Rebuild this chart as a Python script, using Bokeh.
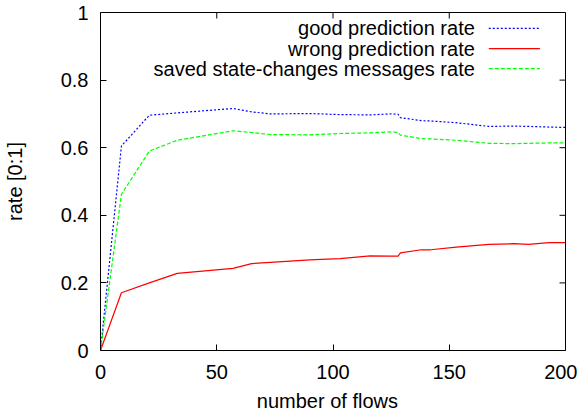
from bokeh.plotting import figure
from bokeh.models import Range1d, FixedTicker, Label
from bokeh.embed import file_html
from bokeh.resources import INLINE

# ---- data ----
flows = [0, 9, 21, 33, 57, 65, 73, 90, 103, 116, 125, 128, 129, 138, 142, 153, 167, 178, 184, 193, 200]
good_rate = [0.0, 0.605, 0.696, 0.703, 0.716, 0.706, 0.700, 0.701, 0.698, 0.697, 0.700, 0.699,
             0.689, 0.680, 0.679, 0.674, 0.663, 0.664, 0.663, 0.661, 0.660]
wrong_rate = [0.0, 0.171, 0.200, 0.228, 0.243, 0.257, 0.261, 0.268, 0.272, 0.280, 0.279, 0.279,
              0.289, 0.298, 0.298, 0.306, 0.314, 0.316, 0.314, 0.319, 0.319]
saved_rate = [0.0, 0.462, 0.590, 0.622, 0.650, 0.645, 0.639, 0.638, 0.642, 0.644, 0.647, 0.645,
              0.637, 0.627, 0.626, 0.622, 0.613, 0.612, 0.613, 0.614, 0.614]

series_names = ["good prediction rate", "wrong prediction rate", "saved state-changes messages rate"]
x_ticks = [0, 50, 100, 150, 200]
y_ticks = [0, 0.2, 0.4, 0.6, 0.8, 1.0]
y_tick_labels = {0: "0", 0.2: "0.2", 0.4: "0.4", 0.6: "0.6", 0.8: "0.8", 1.0: "1"}
x_title = "number  of  flows"
y_title = "rate [0:1]"

FONT = "Liberation Sans"
FS = "20px"
X0, X1, Y0, Y1 = 0, 200, 0, 1
FW, FH = 465, 338

p = figure(output_backend="svg", toolbar_location=None,
           frame_width=FW, frame_height=FH,
           x_range=Range1d(X0, X1), y_range=Range1d(Y0, Y1),
           min_border_left=97, min_border_top=12, min_border_right=12, min_border_bottom=0)
p.background_fill_color = "white"
p.border_fill_color = "white"
p.grid.visible = False
p.outline_line_color = "black"
p.outline_line_width = 1

# main axes
for ax, ticks in ((p.xaxis[0], x_ticks), (p.yaxis[0], y_ticks)):
    ax.ticker = FixedTicker(ticks=ticks)
    ax.axis_line_color = None
    ax.major_tick_in = 6
    ax.major_tick_out = 0
    ax.minor_tick_line_color = None
    ax.major_tick_line_color = "black"
    ax.major_label_text_font = FONT
    ax.major_label_text_font_size = FS
    ax.major_label_text_color = "black"
    ax.axis_label_text_font = FONT
    ax.axis_label_text_font_size = FS
    ax.axis_label_text_font_style = "normal"
    ax.axis_label_text_color = "black"

p.xaxis[0].axis_label = x_title
p.xaxis[0].major_label_standoff = 14
p.xaxis[0].axis_label_standoff = 8
p.yaxis[0].axis_label = y_title
p.yaxis[0].major_label_overrides = y_tick_labels
p.yaxis[0].major_label_standoff = 12
p.yaxis[0].axis_label_standoff = 32

# mirror ticks on top and right (6 px inward)
tick_len_y = 6 * (Y1 - Y0) / FH
tick_len_x = 6 * (X1 - X0) / FW
p.segment(x0=x_ticks, y0=[Y1] * len(x_ticks), x1=x_ticks, y1=[Y1 - tick_len_y] * len(x_ticks),
          line_color="black", line_width=1)
p.segment(x0=[X1] * len(y_ticks), y0=y_ticks, x1=[X1 - tick_len_x] * len(y_ticks), y1=y_ticks,
          line_color="black", line_width=1)

# series
p.line(flows, good_rate, line_color="#0000ff", line_width=1.2, line_dash="2 2")
p.line(flows, wrong_rate, line_color="#ff0000", line_width=1.2)
p.line(flows, saved_rate, line_color="#00ff00", line_width=1.2, line_dash="4 2")

# legend (gnuplot style: right-aligned text, sample on the right)
leg_y = [0.953, 0.893, 0.834]
styles = [("#0000ff", "2 2"), ("#ff0000", "solid"), ("#00ff00", "4 2")]
for name, yy, (col, dash) in zip(series_names, leg_y, styles):
    p.add_layout(Label(x=161, y=yy, text=name, text_align="right", text_baseline="middle",
                       text_font=FONT, text_font_size=FS, text_color="black"))
    p.line([167, 189], [yy, yy], line_color=col, line_width=1.2, line_dash=dash)

open("out.html", "w").write(file_html(p, INLINE))
